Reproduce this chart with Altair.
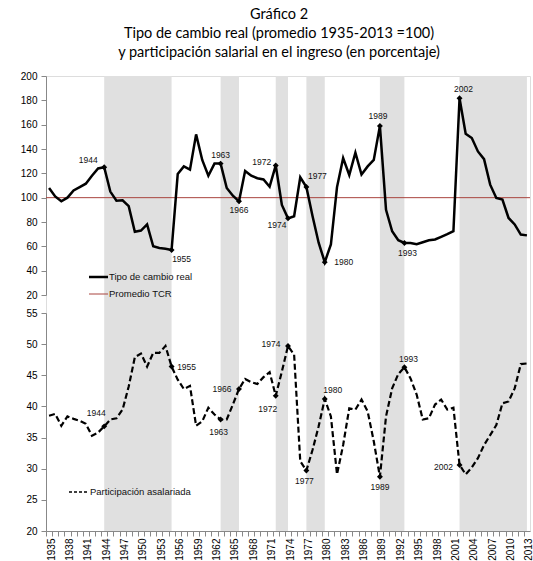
import altair as alt
import pandas as pd

years = list(range(1935, 2014))
tcr = [108, 101, 97, 100, 106, 108.7, 111.5, 118, 124, 125,
       105, 97.5, 97.8, 93, 72, 73, 78, 60, 58.7, 58,
       57, 119.4, 125.7, 123, 152, 131, 118, 128, 128, 108,
       101.6, 97, 122, 118, 116, 115, 109, 126.5, 94, 83,
       84.7, 116.7, 108.7, 85, 63, 47, 61.5, 108.7, 132.5, 118.6,
       137, 119, 125.7, 131, 159, 90, 72.4, 65, 62.8, 62.8,
       61.7, 63.4, 65, 65.6, 67.8, 70, 72.4, 181.7, 152.5, 149,
       138, 131.7, 110.7, 99.7, 98.4, 83.3, 78, 69.7, 69]
part = [38.5, 38.8, 36.9, 38.4, 38.0, 37.7, 37.2, 35.3, 35.8, 36.8,
        37.9, 38.1, 39.5, 43.2, 47.9, 48.5, 46.4, 48.6, 48.6, 49.7,
        46.4, 44.3, 42.8, 43.3, 36.9, 37.6, 39.8, 38.7, 37.9, 37.9,
        40.3, 42.8, 44.4, 43.9, 43.6, 44.7, 45.5, 41.7, 45.6, 49.7,
        48.3, 31.2, 29.7, 33.0, 36.8, 41.2, 38.4, 29.1, 33.8, 39.7,
        39.5, 41.1, 39.2, 34.4, 28.7, 38.4, 42.9, 45.2, 46.3, 44.5,
        41.9, 37.9, 38.1, 40.3, 41.1, 39.5, 39.8, 30.6, 29.1, 30.2,
        31.7, 33.8, 35.4, 37.0, 40.5, 40.8, 42.9, 46.8, 46.9]
tcr_mark_years = [1944, 1955, 1963, 1966, 1972, 1974, 1977, 1980, 1989, 1993, 2002]
part_mark_years = [1944, 1955, 1963, 1966, 1972, 1974, 1977, 1980, 1989, 1993, 2002]
band_start = [1944, 1963, 1972, 1977, 1989, 2002]
band_end = [1955, 1966, 1974, 1980, 1993, 2013]
tcr_mean = 100

# label offsets (presentation only)
tcr_offsets = [(-16, -7), (10, 9), (0, -9), (0, 9), (-14, -3), (-11, 7),
               (11, -11), (19, 0), (-2, -10), (3, 10), (4, -9)]
part_offsets = [(-8, -13), (15, 0), (-2, 12), (-17, 0), (-8, 13), (-17, -2),
                (-2, 10), (8, -9), (0, 10), (4, -8), (-16, 2)]

df = pd.DataFrame({"year": years, "tcr": tcr, "part": part})
bands = pd.DataFrame({"start": band_start, "end": band_end})
one = pd.DataFrame({"a": [0]})

FONT = "Liberation Sans"
W, H = 484, 455

xscale = alt.Scale(domain=[1934.5, 2013.5], nice=False, zero=False)
xaxis = alt.Axis(values=years, labelExpr="(datum.value - 1935) % 3 == 0 ? datum.value : ''",
                 labelAngle=-90, labelFont=FONT, labelFontSize=10, labelColor="#000",
                 tickSize=5, tickOffset=-3, labelOffset=5, tickColor="#888", domainColor="#888",
                 grid=False, labelPadding=2)
X = alt.X("year:Q", scale=xscale, axis=xaxis, title=None)

bands_layer = alt.Chart(bands).mark_rect(color="#e0e0e0").encode(
    x=alt.X("start:Q", scale=xscale, axis=xaxis, title=None), x2="end:Q")

ytop = alt.Y("tcr:Q", scale=alt.Scale(domain=[20, 200], range=[219, 0], nice=False, zero=False),
             axis=alt.Axis(values=list(range(20, 201, 20)), orient="left", grid=False,
                           labelFont=FONT, labelFontSize=10, labelColor="#000", tickSize=5,
                           tickColor="#888", domainColor="#888", labelPadding=4),
             title=None)
ybot = alt.Y("part:Q", scale=alt.Scale(domain=[20, 55], range=[455, 237], nice=False, zero=False),
             axis=alt.Axis(values=list(range(20, 56, 5)), orient="left", grid=False,
                           labelFont=FONT, labelFontSize=10, labelColor="#000", tickSize=5,
                           tickColor="#888", domainColor="#888", labelPadding=4),
             title=None)

base = alt.Chart(df)
top_layers = [
    alt.Chart(one).mark_rule(color="#a9443e", strokeWidth=1).encode(y=alt.datum(tcr_mean)),
    base.mark_line(color="black", strokeWidth=2.5).encode(x=X, y=ytop),
    base.transform_filter(alt.FieldOneOfPredicate(field="year", oneOf=tcr_mark_years))
        .mark_point(shape="diamond", filled=True, size=35, color="black", opacity=1).encode(x=X, y=ytop),
]
for yr, (dx, dy) in zip(tcr_mark_years, tcr_offsets):
    top_layers.append(
        base.transform_filter(alt.datum.year == yr)
        .mark_text(font=FONT, fontSize=8.5, color="#111", dx=dx, dy=dy, align="center", baseline="middle")
        .encode(x=X, y=ytop, text=alt.Text("year:N")))
top = alt.layer(*top_layers)

bot_layers = [
    base.mark_line(color="black", strokeWidth=2.2, strokeDash=[6, 3]).encode(x=X, y=ybot),
    base.transform_filter(alt.FieldOneOfPredicate(field="year", oneOf=part_mark_years))
        .mark_point(shape="diamond", filled=True, size=35, color="black", opacity=1).encode(x=X, y=ybot),
]
for yr, (dx, dy) in zip(part_mark_years, part_offsets):
    bot_layers.append(
        base.transform_filter(alt.datum.year == yr)
        .mark_text(font=FONT, fontSize=8.5, color="#111", dx=dx, dy=dy, align="center", baseline="middle")
        .encode(x=X, y=ybot, text=alt.Text("year:N")))
bot = alt.layer(*bot_layers)

lc = alt.Chart(one)
legend = alt.layer(
    lc.mark_rule(color="black", strokeWidth=2.5).encode(x=alt.value(43), x2=alt.value(62), y=alt.value(201)),
    lc.mark_text(font=FONT, fontSize=9.5, align="left", baseline="middle", color="#111")
      .encode(x=alt.value(63), y=alt.value(201), text=alt.value("Tipo de cambio real")),
    lc.mark_rule(color="#a9443e", strokeWidth=1).encode(x=alt.value(43), x2=alt.value(62), y=alt.value(218)),
    lc.mark_text(font=FONT, fontSize=9.5, align="left", baseline="middle", color="#111")
      .encode(x=alt.value(63), y=alt.value(218), text=alt.value("Promedio TCR")),
    lc.mark_rule(color="black", strokeWidth=1.3, strokeDash=[3, 2]).encode(x=alt.value(23), x2=alt.value(42), y=alt.value(416)),
    lc.mark_text(font=FONT, fontSize=9.5, align="left", baseline="middle", color="#111")
      .encode(x=alt.value(44), y=alt.value(416), text=alt.value("Participación asalariada")),
)

chart = alt.layer(bands_layer, top, bot, legend).resolve_scale(y="independent").properties(
    width=W, height=H,
    autosize=alt.AutoSizeParams(type="none"),
    padding={"left": 46, "top": 76, "right": 3, "bottom": 30},
    title=alt.TitleParams(
        text=["Gráfico 2", "Tipo de cambio real (promedio 1935-2013 =100)",
              "y participación salarial en el ingreso (en porcentaje)"],
        font="Lato", fontSize=14.5, fontWeight="normal", color="#000", anchor="middle",
        frame="group", offset=11, lineHeight=19, dx=-9),
).configure_view(stroke=None).configure(background="white")

chart.save("out.html", embed_options={"renderer": "svg", "actions": False})
